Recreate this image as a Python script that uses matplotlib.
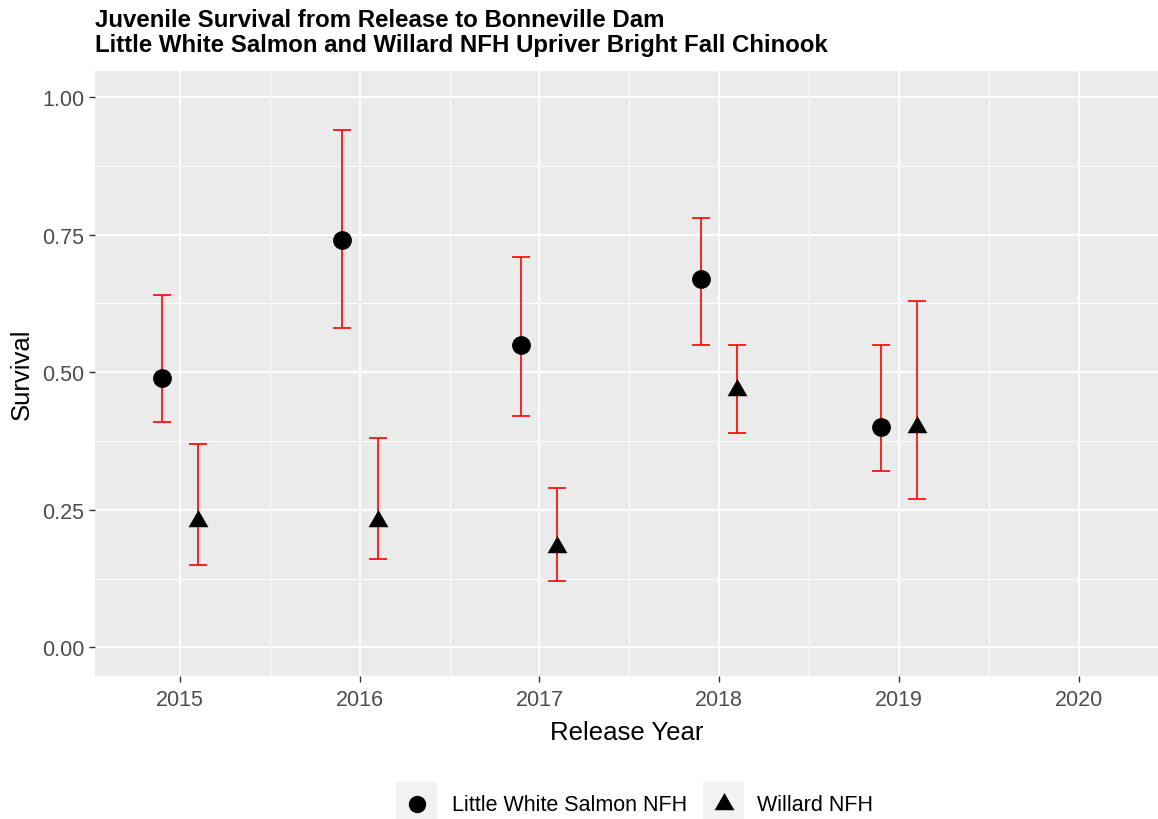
import matplotlib
matplotlib.use("Agg")
import matplotlib.pyplot as plt
from matplotlib.patches import Rectangle
from matplotlib.lines import Line2D
from matplotlib.ticker import MultipleLocator

# data
years = [2015, 2016, 2017, 2018, 2019]
year_ticks = [2015, 2016, 2017, 2018, 2019, 2020]

lws_surv = [0.49, 0.74, 0.55, 0.67, 0.40]
lws_lo = [0.41, 0.58, 0.42, 0.55, 0.32]
lws_hi = [0.64, 0.94, 0.71, 0.78, 0.55]

wil_surv = [0.23, 0.23, 0.182, 0.467, 0.40]
wil_lo = [0.15, 0.16, 0.12, 0.39, 0.27]
wil_hi = [0.37, 0.38, 0.29, 0.55, 0.63]

series_names = ["Little White Salmon NFH", "Willard NFH"]
title_lines = ["Juvenile Survival from Release to Bonneville Dam",
               "Little White Salmon and Willard NFH Upriver Bright Fall Chinook"]

FONT = "Liberation Sans"
W, H = 1158, 820

# R style triangle (centroid at the point)
tri = [(0, 1.555), (1.347, -0.778), (-1.347, -0.778), (0, 1.555)]

fig = plt.figure(figsize=(W / 100, H / 100), dpi=100)
ax = fig.add_axes([95 / W, 1 - 677 / H, 1 - 95 / W, (677 - 71.7) / H])
ax.set_facecolor("#EBEBEB")
for s in ax.spines.values():
    s.set_visible(False)

dodge = 0.1
x_lws = [y - dodge for y in years]
x_wil = [y + dodge for y in years]

# error bars
for xs, mid, lo, hi in [(x_lws, lws_surv, lws_lo, lws_hi), (x_wil, wil_surv, wil_lo, wil_hi)]:
    err = [[m - l for m, l in zip(mid, lo)], [h - m for m, h in zip(mid, hi)]]
    ax.errorbar(xs, mid, yerr=err, fmt="none", ecolor="#FF0000", elinewidth=1.2,
                capsize=6.5, capthick=1.2, zorder=3)

ax.plot(x_lws, lws_surv, linestyle="none", marker="o", markersize=12.5,
        color="black", zorder=4)
ax.plot(x_wil, wil_surv, linestyle="none", marker=tri, markersize=16.5,
        color="black", markeredgewidth=0, zorder=4)

ax.set_xlim(2014.528, 2020.44)
ax.set_ylim(-0.052, 1.048)
ax.set_xticks(year_ticks)
ax.set_xticklabels([str(y) for y in year_ticks])
ax.xaxis.set_minor_locator(MultipleLocator(0.5))
ax.set_yticks([0, 0.25, 0.5, 0.75, 1.0])
ax.set_yticklabels(["0.00", "0.25", "0.50", "0.75", "1.00"])
ax.yaxis.set_minor_locator(MultipleLocator(0.125))

ax.grid(which="major", color="white", linewidth=1.3)
ax.grid(which="minor", color="white", linewidth=0.7)
ax.set_axisbelow(True)
ax.tick_params(which="major", length=4.5, width=1.0, color="#333333",
               labelsize=15.5, labelcolor="#4D4D4D", pad=3)
ax.tick_params(axis="x", which="major", pad=5)
ax.tick_params(which="minor", length=0)
for lab in ax.get_xticklabels() + ax.get_yticklabels():
    lab.set_fontfamily(FONT)

ax.set_xlabel("Release Year", fontsize=18.5, fontfamily=FONT, labelpad=7)
ax.set_ylabel("Survival", fontsize=18.5, fontfamily=FONT, labelpad=6)

# two-line bold title, left aligned with the panel
for line, base in zip(title_lines, [26.7, 52.3]):
    fig.text(95 / W, 1 - base / H, line, fontsize=17.3, fontweight="bold",
             fontfamily=FONT, ha="left", va="baseline")

# legend at bottom, drawn by hand
keys = [(396, "o", 12.5), (703, tri, 16.5)]
text_x = [451.7, 756.7]
for (kx, mk, ms), tx, name in zip(keys, text_x, series_names):
    fig.patches.append(Rectangle((kx / W, 1 - 824 / H), 41 / W, 41 / H,
                                 transform=fig.transFigure, facecolor="#F2F2F2",
                                 edgecolor="none"))
    fig.lines.append(Line2D([(kx + 20.5) / W], [1 - 805 / H], transform=fig.transFigure,
                            marker=mk, markersize=ms, color="black",
                            markeredgewidth=0, linestyle="none"))
    fig.text(tx / W, 1 - 806 / H, name, fontsize=15.5, fontfamily=FONT,
             ha="left", va="center")

fig.savefig("out.png", dpi=100)
